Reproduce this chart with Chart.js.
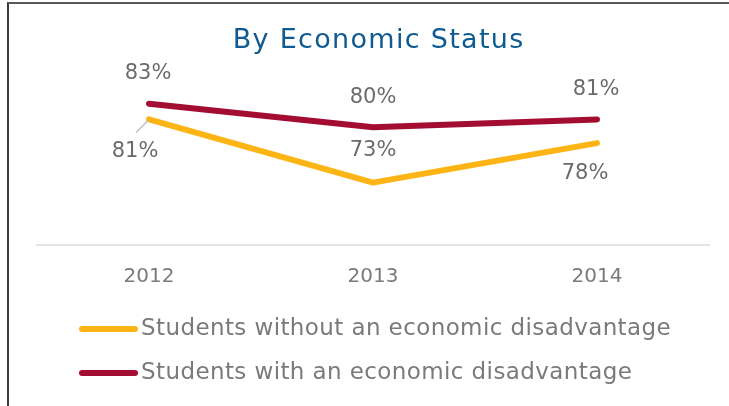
<!DOCTYPE html>
<html>
<head>
<meta charset="utf-8">
<script src="https://cdn.jsdelivr.net/npm/chart.js@4/dist/chart.umd.min.js"></script>
<style>
  html, body { margin: 0; padding: 0; background: #fff; overflow: hidden; }
  .wrap { position: relative; width: 729px; height: 406px; }
  .frame {
    position: absolute; left: 7px; top: 2px; right: 0; bottom: 0;
    border-left: 2px solid #3a3a3a; border-top: 2px solid #5a5a5a;
    pointer-events: none;
  }
  canvas { position: absolute; left: 0; top: 0; }
</style>
</head>
<body>
<div class="wrap">
  <canvas id="chart" width="729" height="406"></canvas>
  <div class="frame"></div>
</div>
<script>
const years = ['2012', '2013', '2014'];
const withoutDisadvantage = [81, 73, 78];
const withDisadvantage = [83, 80, 81];
const seriesNames = [
  'Students without an economic disadvantage',
  'Students with an economic disadvantage',
];
const chartTitle = 'By Economic Status';

const GOLD = '#fdb515';
const CRIMSON = '#a30d32';
const FONT = '"DejaVu Sans", sans-serif';

// heading drawn by hand so letterSpacing can be used
const heading = {
  id: 'heading',
  afterDraw(chart, args, opts) {
    const ctx = chart.ctx;
    ctx.save();
    ctx.font = `${opts.size}px ${FONT}`;
    ctx.letterSpacing = opts.spacing + 'px';
    ctx.fillStyle = '#0f5a91';
    ctx.textAlign = 'center';
    ctx.textBaseline = 'middle';
    ctx.fillText(opts.text, opts.x + opts.spacing / 2, opts.y);
    ctx.restore();
  }
};

// value labels next to each point; offsets are per point [dx, dy]
const valueLabels = {
  id: 'valueLabels',
  afterDatasetsDraw(chart, args, opts) {
    const ctx = chart.ctx;
    ctx.save();
    ctx.font = `21px ${FONT}`;
    ctx.fillStyle = '#6b6b6b';
    ctx.textAlign = 'center';
    ctx.textBaseline = 'middle';
    chart.data.datasets.forEach((ds, i) => {
      const meta = chart.getDatasetMeta(i);
      const offs = opts.offsets[i];
      meta.data.forEach((pt, j) => {
        const [dx, dy] = offs[j];
        ctx.fillText(ds.data[j] + '%', pt.x + dx, pt.y + dy);
      });
    });
    // small leader from the first gold point to its label
    const p = chart.getDatasetMeta(0).data[0];
    ctx.strokeStyle = '#bdbdbd';
    ctx.lineWidth = 1.5;
    ctx.beginPath();
    ctx.moveTo(p.x - 1, p.y + 1);
    ctx.lineTo(p.x - 13, p.y + 13);
    ctx.stroke();
    ctx.restore();
  }
};

// two stacked legend rows with line swatches
const rowLegend = {
  id: 'rowLegend',
  afterDraw(chart, args, opts) {
    const ctx = chart.ctx;
    ctx.save();
    ctx.font = `23px ${FONT}`;
    ctx.letterSpacing = '0.4px';
    ctx.textBaseline = 'middle';
    ctx.lineCap = 'round';
    chart.data.datasets.forEach((ds, i) => {
      const y = opts.top + i * opts.rowGap;
      ctx.strokeStyle = ds.borderColor;
      ctx.lineWidth = 6;
      ctx.beginPath();
      ctx.moveTo(opts.left, y);
      ctx.lineTo(opts.left + 53, y);
      ctx.stroke();
      ctx.fillStyle = '#7a7a7a';
      ctx.fillText(ds.label, opts.left + 59, y);
    });
    ctx.restore();
  }
};

new Chart(document.getElementById('chart'), {
  type: 'line',
  data: {
    labels: years,
    datasets: [
      {
        label: seriesNames[0],
        data: withoutDisadvantage,
        borderColor: GOLD,
        backgroundColor: GOLD,
      },
      {
        label: seriesNames[1],
        data: withDisadvantage,
        borderColor: CRIMSON,
        backgroundColor: CRIMSON,
      },
    ],
  },
  options: {
    responsive: false,
    animation: false,
    events: [],
    layout: { padding: { left: 37, right: 20, top: 61, bottom: 97 } },
    elements: {
      line: { borderWidth: 6, tension: 0, borderCapStyle: 'round', borderJoinStyle: 'round' },
      point: { radius: 0 },
    },
    scales: {
      x: {
        offset: true,
        grid: { display: false, drawTicks: false, tickLength: 0 },
        border: { display: true, color: '#e4e4e4', width: 2 },
        ticks: { color: '#7a7a7a', padding: 20, font: { family: FONT, size: 20 } },
      },
      y: {
        display: false,
        min: 65.1,
        max: 88.4,
      },
    },
    plugins: {
      legend: { display: false },
      tooltip: { enabled: false },
      title: { display: false },
      heading: { text: chartTitle, x: 378, y: 41, size: 27, spacing: 1.3 },
      valueLabels: {
        offsets: [
          [[-14, 32], [0, -32], [-12, 30]],
          [[-1, -30], [0, -30], [-1, -30]],
        ],
      },
      rowLegend: { left: 82, top: 329, rowGap: 44 },
    },
  },
  plugins: [heading, valueLabels, rowLegend],
});
</script>
</body>
</html>
